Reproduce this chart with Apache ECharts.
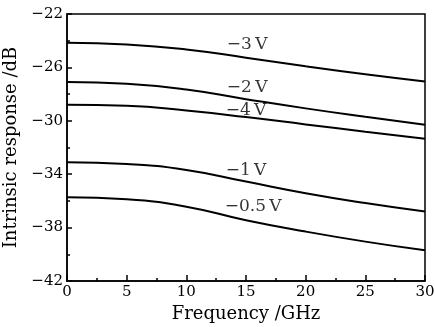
<!DOCTYPE html>
<html><head><meta charset="utf-8">
<script src="https://cdn.jsdelivr.net/npm/echarts@6/dist/echarts.min.js"></script>
<style>html,body{margin:0;padding:0;background:#fff}#c{width:435px;height:327px}</style>
</head><body><div id="c"></div>
<script>
const freq = [0, 5, 10, 15, 20, 25, 30];
const v3  = [-24.15, -24.28, -24.66, -25.27, -25.92, -26.52, -27.06];
const v2  = [-27.10, -27.23, -27.66, -28.38, -29.07, -29.70, -30.30];
const v4  = [-28.80, -28.88, -29.23, -29.72, -30.27, -30.82, -31.35];
const v1  = [-33.10, -33.23, -33.68, -34.55, -35.42, -36.16, -36.80];
const v05 = [-35.73, -35.88, -36.43, -37.45, -38.30, -39.05, -39.70];
const seriesNames = ['−3\u2009V', '−2\u2009V', '−4\u2009V', '−1\u2009V', '−0.5\u2009V'];
const labelFreq = [15.1, 15.1, 15.0, 15.0, 15.6];
const labelVal = [-24.3, -27.5, -29.2, -33.7, -36.45];
const xTicks = [0, 30, 5];
const yTicks = [-42, -22, 4];

const font = 'DejaVu Serif';
const allVals = [v3, v2, v4, v1, v05];
const series = allVals.map((arr, i) => ({
  type: 'line', name: seriesNames[i], smooth: 0.5, symbol: 'none',
  lineStyle: {color: '#000', width: 2},
  data: freq.map((f, j) => [f, arr[j]])
}));
series.push({
  type: 'scatter', symbolSize: 0, silent: true,
  data: seriesNames.map((n, i) => ({value: [labelFreq[i], labelVal[i]], name: n})),
  label: {show: true, position: 'inside', formatter: p => p.name, color: '#000',
          fontFamily: font, fontSize: 17}
});
const chart = echarts.init(document.getElementById('c'));
chart.setOption({
  animation: false,
  grid: {left: 67, right: 10, top: 14, bottom: 46, show: true, borderColor: '#000', borderWidth: 1.5,
         containLabel: false, outerBoundsMode: 'none'},
  xAxis: {
    type: 'value', min: xTicks[0], max: xTicks[1], interval: xTicks[2],
    name: 'Frequency /GHz', nameLocation: 'middle', nameGap: 24,
    nameTextStyle: {fontFamily: font, fontSize: 18, color: '#000'},
    axisLine: {lineStyle: {color: '#000', width: 1.5}},
    axisTick: {inside: true, length: 6, lineStyle: {color: '#000', width: 1.5}},
    minorTick: {show: true, splitNumber: 2, length: 3, lineStyle: {color: '#000', width: 1.5}},
    axisLabel: {fontFamily: font, fontSize: 15, color: '#000', margin: 4},
    splitLine: {show: false}
  },
  yAxis: {
    type: 'value', min: yTicks[0], max: yTicks[1], interval: yTicks[2],
    name: 'Intrinsic response /dB', nameLocation: 'middle', nameGap: 40,
    nameTextStyle: {fontFamily: font, fontSize: 18, color: '#000'},
    axisLine: {lineStyle: {color: '#000', width: 1.5}},
    axisTick: {inside: true, length: 5, lineStyle: {color: '#000', width: 1.5}},
    minorTick: {show: true, splitNumber: 2, length: 3, lineStyle: {color: '#000', width: 1.5}},
    axisLabel: {fontFamily: font, fontSize: 15, color: '#000', margin: 4,
                formatter: v => String(v).replace('-', '−')},
    splitLine: {show: false}
  },
  series: series
});
</script></body></html>
